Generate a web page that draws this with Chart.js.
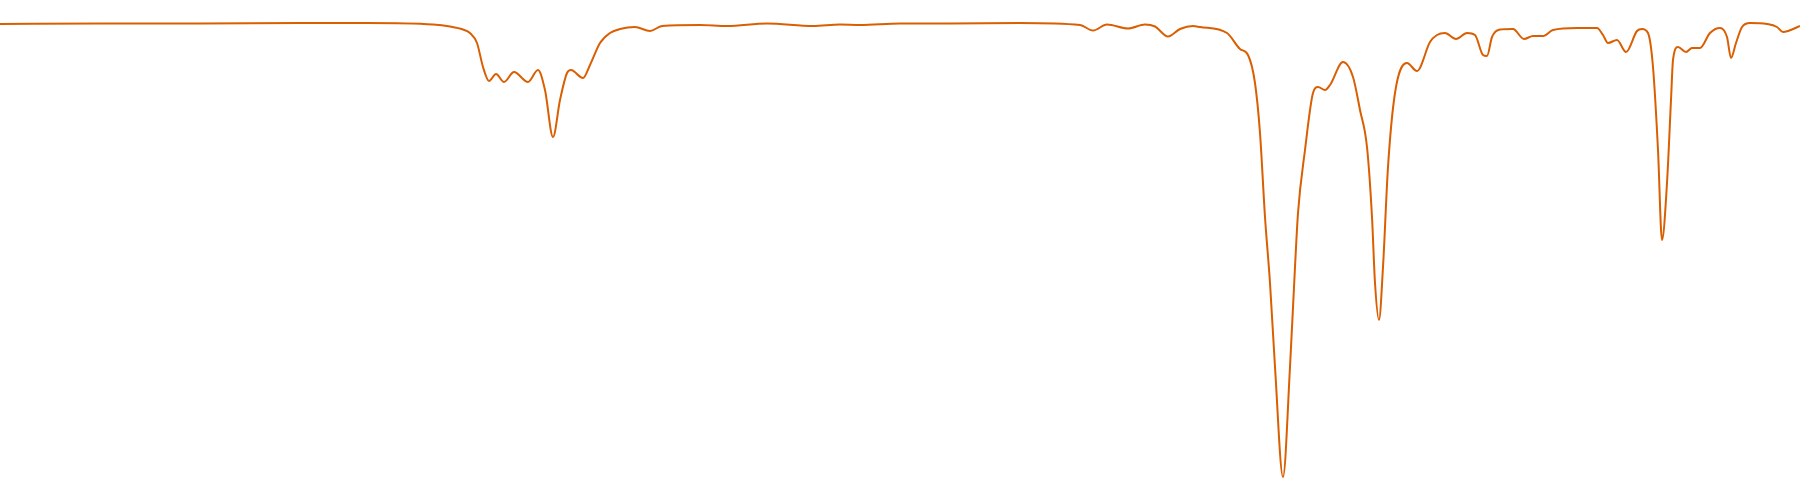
<!DOCTYPE html>
<html>
<head>
<meta charset="utf-8">
<title>Spectrum</title>
<script src="https://cdn.jsdelivr.net/npm/chart.js@4"></script>
<style>
  html, body { margin: 0; padding: 0; background: #ffffff; }
  #wrap { width: 1800px; height: 500px; }
</style>
</head>
<body>
<div id="wrap"><canvas id="spectrum" width="1800" height="500"></canvas></div>
<script>
        // Wavenumber (cm-1)
        const wavenumbers = [
            4000, 3800, 3600, 3400, 3266, 3134, 3100, 3074, 3060, 3046,
            3034, 3022, 3008, 2992, 2972, 2944, 2924, 2910, 2894, 2880,
            2866, 2858, 2834, 2820, 2800, 2780, 2760, 2730, 2700, 2676,
            2600, 2546, 2466, 2374, 2320, 2280, 2200, 2100, 1960, 1840,
            1814, 1786, 1744, 1710, 1690, 1664, 1640, 1614, 1600, 1546,
            1520, 1504, 1490, 1480, 1470, 1460, 1450, 1434, 1420, 1410,
            1404, 1390, 1374, 1364, 1350, 1340, 1314, 1294, 1280, 1266,
            1256, 1250, 1242, 1234, 1224, 1210, 1186, 1166, 1140, 1126,
            1110, 1088, 1066, 1050, 1034, 1026, 1016, 1000, 974, 952,
            934, 914, 894, 846, 806, 794, 784, 766, 748, 726,
            716, 704, 694, 684, 676, 666, 658, 654, 644, 628,
            616, 600, 580, 560, 546, 538, 528, 516, 500, 466,
            446, 434, 424, 400
        ];

        // Transmittance (%)
        const transmittance = [
            95.2, 95.3, 95.3, 95.4, 95.4, 95.1, 94.7, 94.1, 93.4, 91.4,
            86.6, 83.8, 85.2, 83.6, 85.6, 83.6, 86.0, 82.0, 72.6, 80.0,
            85.4, 86.0, 84.4, 87.0, 91.4, 93.4, 94.2, 94.6, 93.8, 94.8,
            95.0, 94.8, 95.3, 94.8, 95.1, 95.0, 95.3, 95.3, 95.4, 95.0,
            93.9, 95.1, 94.3, 95.1, 94.7, 92.7, 94.2, 94.8, 94.6, 93.4,
            90.2, 89.0, 83.4, 73.4, 56.6, 43.4, 26.6, 4.6, 26.6, 46.6,
            57.4, 70.0, 81.4, 82.6, 82.0, 83.0, 87.6, 84.6, 78.0, 70.6,
            56.6, 43.4, 36.0, 46.6, 66.6, 81.4, 87.4, 85.8, 91.6, 93.0,
            93.4, 92.2, 93.4, 93.0, 89.0, 88.8, 92.6, 94.1, 94.2, 92.2,
            92.8, 92.8, 94.0, 94.4, 94.4, 93.0, 91.4, 92.0, 89.6, 93.8,
            94.2, 93.4, 86.6, 70.0, 52.0, 63.4, 80.0, 88.0, 90.6, 89.6,
            90.4, 90.4, 93.4, 94.4, 92.6, 88.4, 91.4, 94.6, 95.4, 95.2,
            94.6, 93.6, 93.8, 94.8
        ];

        function initChart() {
            const ctx = document.getElementById('spectrum').getContext('2d');
            const points = wavenumbers.map((w, i) => ({ x: w, y: transmittance[i] }));

            new Chart(ctx, {
                type: 'line',
                data: {
                    datasets: [{
                        label: 'Transmittance',
                        data: points,
                        borderColor: '#d95f02',
                        borderWidth: 2,
                        pointRadius: 0,
                        fill: false,
                        cubicInterpolationMode: 'monotone'
                    }]
                },
                options: {
                    responsive: false,
                    animation: false,
                    layout: { padding: 0 },
                    plugins: {
                        legend: { display: false },
                        tooltip: { enabled: false }
                    },
                    scales: {
                        x: {
                            type: 'linear',
                            reverse: true,
                            min: 400,
                            max: 4000,
                            display: false
                        },
                        y: {
                            min: 0,
                            max: 100,
                            display: false
                        }
                    }
                }
            });
        }

        initChart();
</script>
</body>
</html>
